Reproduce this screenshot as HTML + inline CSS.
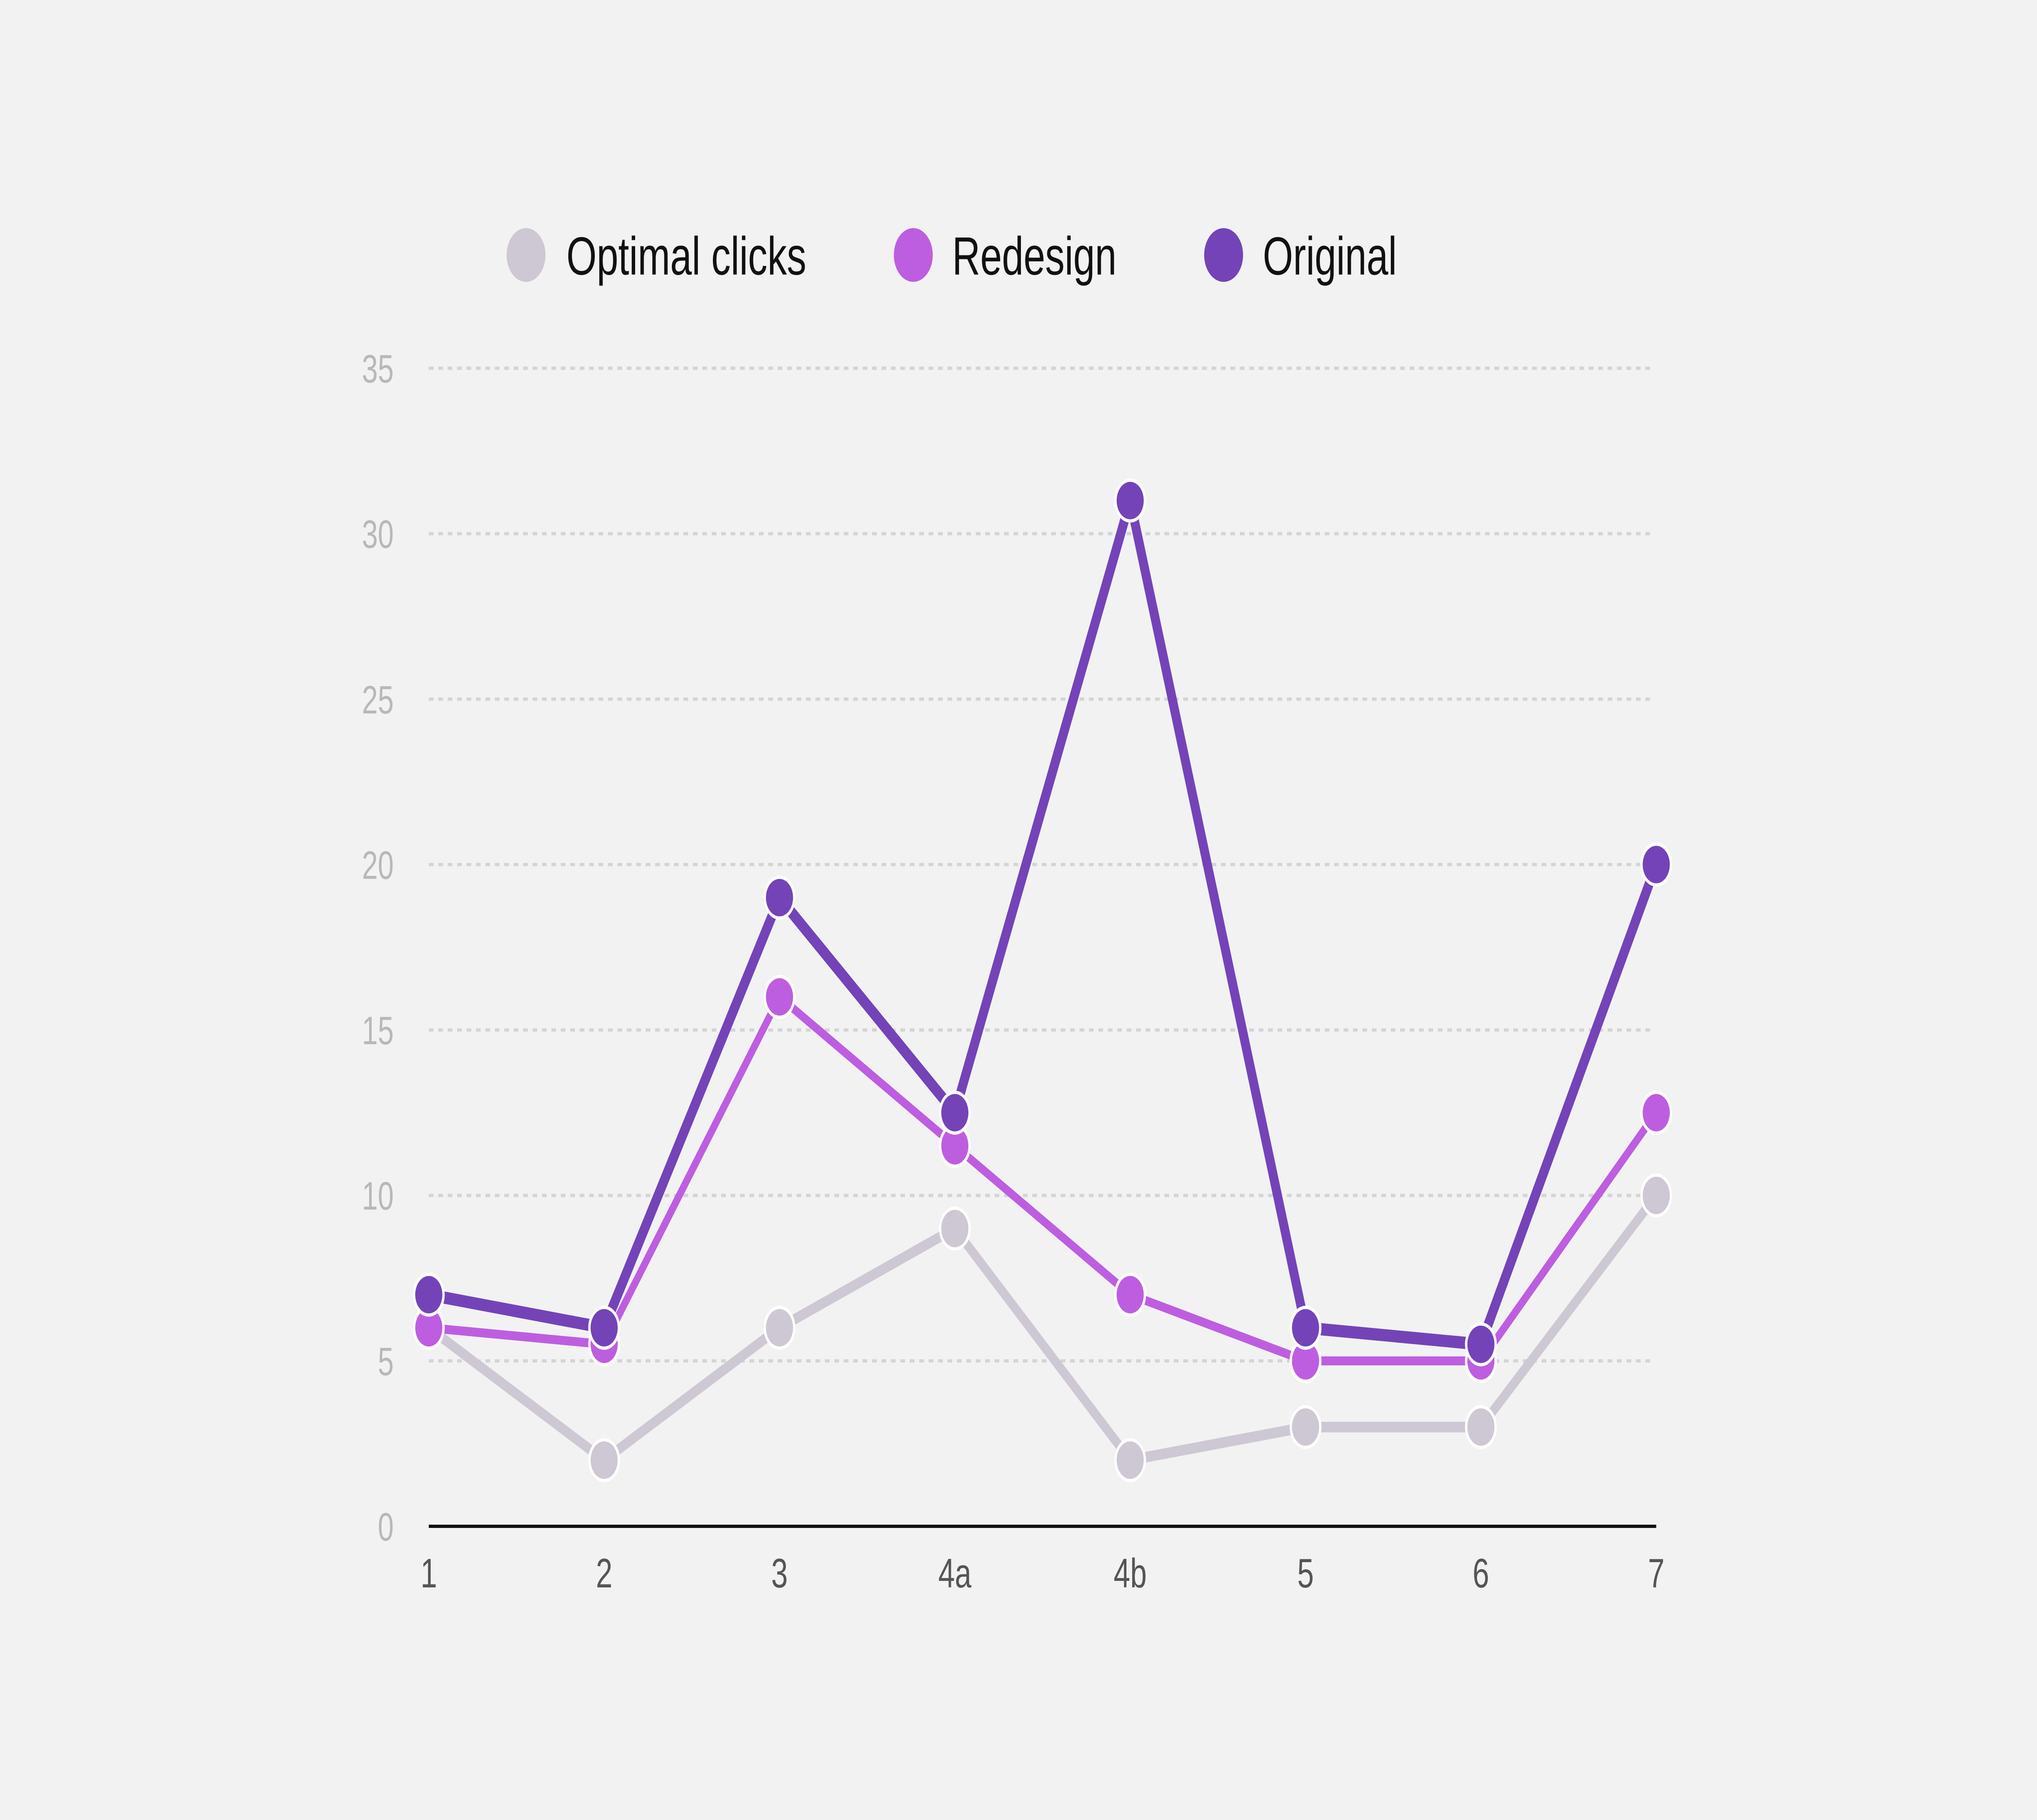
<!DOCTYPE html>
<html><head><meta charset="utf-8"><style>
html,body{margin:0;padding:0;background:#f2f2f2;width:100%;height:100%;overflow:hidden;}
svg{display:block;width:100vw;height:100vh;}
text{font-family:"Liberation Sans",sans-serif;}
</style></head><body>
<svg id="chart" viewBox="0 0 6912 4468" preserveAspectRatio="none" xmlns="http://www.w3.org/2000/svg">
<rect width="6912" height="4468" fill="#f2f2f2"/>
<g id="grid"></g>
<g id="yticks"></g>
<g id="xticks"></g>
<line x1="1455" x2="5620" y1="3747" y2="3747" stroke="#111" stroke-width="8"/>
<g id="series"></g>
<g>
<g><circle cx="1785" cy="626" r="66" fill="#cdc8d3"/><text x="1922" y="674" font-size="132" fill="#111">Optimal clicks</text></g>
<g><circle cx="3099" cy="626" r="66" fill="#bd5ee0"/><text x="3231" y="674" font-size="132" fill="#111">Redesign</text></g>
<g><circle cx="4152" cy="626" r="66" fill="#7443b8"/><text x="4285" y="674" font-size="132" fill="#111">Original</text></g>
</g>
</svg>
<script>
const categories = ["1","2","3","4a","4b","5","6","7"];
const optimalValues = [6,2,6,9,2,3,3,10];
const redesignValues = [6,5.5,16,11.5,7,5,5,12.5];
const originalValues = [7,6,19,12.5,31,6,5.5,20];
const yTicks = [0,5,10,15,20,25,30,35];

const NS="http://www.w3.org/2000/svg";
function xScale(i){return 1455+i*(5620-1455)/(categories.length-1);}
function yScale(v){return 3747-v*(3747-904)/35;}
function mk(tag,attrs,parent){const e=document.createElementNS(NS,tag);for(const k in attrs)e.setAttribute(k,attrs[k]);parent.appendChild(e);return e;}
const grid=document.getElementById('grid'),yt=document.getElementById('yticks'),xt=document.getElementById('xticks'),ser=document.getElementById('series');
yTicks.forEach(v=>{
  if(v>0){const l=mk('line',{x1:1455,x2:5606,y1:yScale(v),y2:yScale(v),stroke:'#d4d4d4','stroke-width':8,'stroke-dasharray':'16 16'},grid);
  
  }
  const t=mk('text',{x:1336,y:yScale(v)+35,'text-anchor':'end','font-size':97,fill:'#b8b8b8'},yt);
  t.textContent=v;
  
  
});
categories.forEach((c,i)=>{
  const t=mk('text',{x:xScale(i),y:3897,'text-anchor':'middle','font-size':101,fill:'#555'},xt);
  t.textContent=c;
  
  
});
function drawSeries(vals,color,w,name){
  const g=mk('g',{},ser);
  
  
  const p=mk('polyline',{points:vals.map((v,i)=>xScale(i)+','+yScale(v)).join(' '),fill:'none',stroke:color,'stroke-width':w,'stroke-linejoin':'round'},g);
  
  
  vals.forEach((v,i)=>{
    const c=mk('circle',{cx:xScale(i),cy:yScale(v),r:50,fill:color,stroke:'#fff','stroke-width':8},g);
    
    
  });
}
drawSeries(optimalValues,'#cdc8d3',26,'optimal');
drawSeries(redesignValues,'#bd5ee0',22,'redesign');
drawSeries(originalValues,'#7443b8',30,'original');
</script>
</body></html>
